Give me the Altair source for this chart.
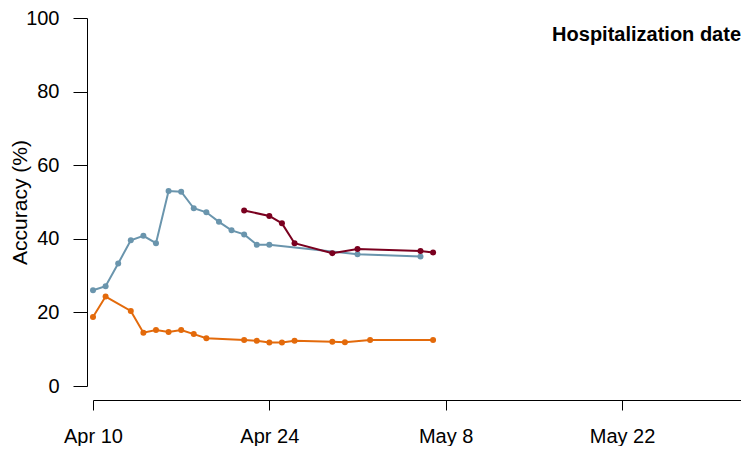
import altair as alt
import pandas as pd

# ---- data ----
blue_dates = ["2020-04-10", "2020-04-11", "2020-04-12", "2020-04-13", "2020-04-14",
              "2020-04-15", "2020-04-16", "2020-04-17", "2020-04-18", "2020-04-19",
              "2020-04-20", "2020-04-21", "2020-04-22", "2020-04-23", "2020-04-24",
              "2020-05-01", "2020-05-06"]
blue_values = [26.0, 27.1, 33.3, 39.6, 40.8, 38.8, 53.0, 52.8, 48.3, 47.2,
               44.6, 42.3, 41.2, 38.4, 38.4, 35.8, 35.2]

red_dates = ["2020-04-22", "2020-04-24", "2020-04-25", "2020-04-26", "2020-04-29",
             "2020-05-01", "2020-05-06", "2020-05-07"]
red_values = [47.7, 46.2, 44.2, 38.8, 36.1, 37.2, 36.7, 36.3]

orange_dates = ["2020-04-10", "2020-04-11", "2020-04-13", "2020-04-14", "2020-04-15",
                "2020-04-16", "2020-04-17", "2020-04-18", "2020-04-19", "2020-04-22",
                "2020-04-23", "2020-04-24", "2020-04-25", "2020-04-26", "2020-04-29",
                "2020-04-30", "2020-05-02", "2020-05-07"]
orange_values = [18.75, 24.3, 20.4, 14.5, 15.2, 14.7, 15.2, 14.1, 13.0, 12.5,
                 12.3, 11.8, 11.8, 12.3, 12.0, 11.9, 12.5, 12.5]

series_names = ["blue", "orange", "red"]
series_colors = ["#6a95ad", "#e36a0b", "#7a001f"]
y_ticks = [0, 20, 40, 60, 80, 100]
title_text = "Hospitalization date"

rows = []
for name, ds, vs in [("blue", blue_dates, blue_values),
                     ("orange", orange_dates, orange_values),
                     ("red", red_dates, red_values)]:
    for d, v in zip(ds, vs):
        rows.append({"series": name, "date": pd.Timestamp(d), "value": v})
df = pd.DataFrame(rows)

FONT = "Liberation Sans"

x_enc = alt.X(
    "date:T",
    scale=alt.Scale(domain=[alt.DateTime(year=2020, month=4, date=10),
                            alt.DateTime(year=2020, month=5, date=31, hours=10, minutes=42)]),
    axis=alt.Axis(
        values=[alt.DateTime(year=2020, month=4, date=10),
                alt.DateTime(year=2020, month=4, date=24),
                alt.DateTime(year=2020, month=5, date=8),
                alt.DateTime(year=2020, month=5, date=22)],
        format="%b %-d", title=None, offset=14, tickSize=10,
        labelPadding=16, labelFontSize=20, labelFont=FONT,
        domainColor="black", tickColor="black", labelColor="black",
        grid=False, labelFlush=False,
    ),
)
y_enc = alt.Y(
    "value:Q",
    scale=alt.Scale(domain=[0, 100], nice=False),
    axis=alt.Axis(
        values=y_ticks, title="Accuracy (%)", offset=6, tickSize=14,
        labelPadding=14, labelFontSize=20, labelFont=FONT,
        titleFont=FONT, titleFontSize=21, titleFontWeight="normal",
        titlePadding=-5, domainColor="black", tickColor="black",
        labelColor="black", titleColor="black", grid=False,
    ),
)
color_enc = alt.Color("series:N", scale=alt.Scale(domain=series_names, range=series_colors),
                      legend=None)

base = alt.Chart(df).encode(x=x_enc, y=y_enc, color=color_enc, detail="series:N")
lines = base.mark_line(strokeWidth=2)
points = base.mark_circle(size=36, opacity=1)

title = alt.Chart(pd.DataFrame({"t": [title_text]})).mark_text(
    align="right", baseline="alphabetic", fontSize=20, fontWeight="bold", font=FONT, color="black"
).encode(text="t:N", x=alt.value(648), y=alt.value(23))

chart = alt.layer(lines, points, title).properties(
    width=648, height=368,
    autosize=alt.AutoSizeParams(type="none"),
    padding={"left": 85, "top": 10, "right": 0, "bottom": 60},
).configure_view(stroke=None)

chart.save("out.html", embed_options={"renderer": "svg", "actions": False})
